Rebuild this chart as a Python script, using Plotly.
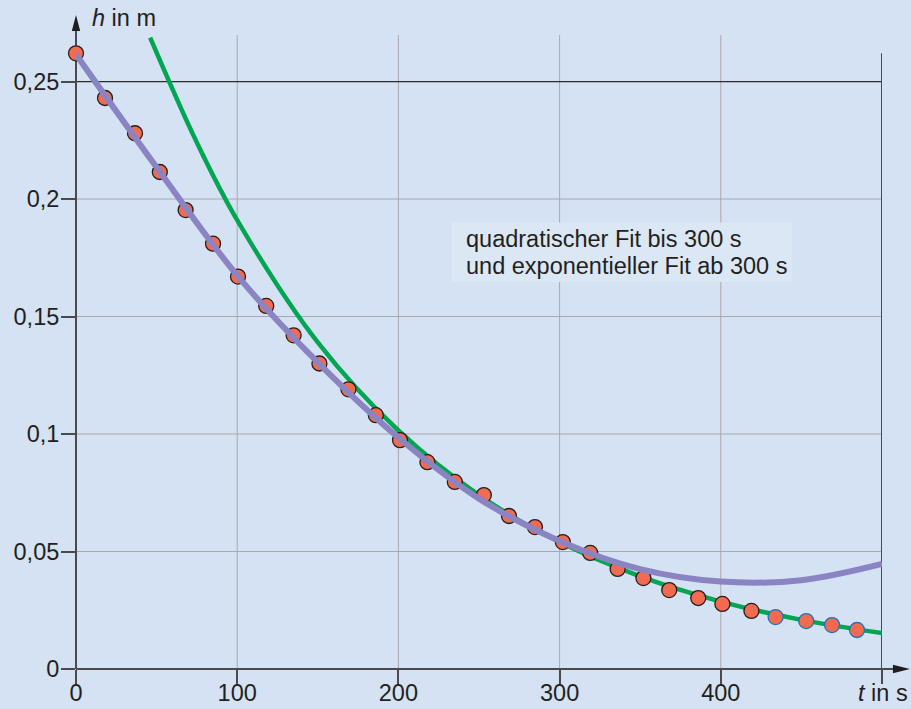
import plotly.graph_objects as go

# Measured water level h (m) over time t (s)
t_meas = [0, 18, 36.6, 52, 68, 85, 100.5, 118, 135, 151, 169, 186, 201, 218, 235,
          253, 268.6, 284.7, 302, 319, 336, 352, 368, 386, 401, 419, 434, 453, 469, 484.5]
h_meas = [0.262, 0.243, 0.228, 0.2115, 0.1953, 0.181, 0.167, 0.1545, 0.142, 0.130,
          0.119, 0.108, 0.0974, 0.088, 0.0796, 0.074, 0.0651, 0.0604, 0.054, 0.0494,
          0.0426, 0.0387, 0.0336, 0.0302, 0.0277, 0.0247, 0.0221, 0.0204, 0.0187, 0.0166]
# the last points are outlined in blue
n_blue = 4

# quadratic fit curve (sampled)
t_quad = [0, 50, 100, 150, 200, 250, 300, 350, 400, 450, 500]
h_quad = [0.2615, 0.2135, 0.1675, 0.1305, 0.0985, 0.0725, 0.0545, 0.0425, 0.0372, 0.0378, 0.0447]

# exponential fit curve (sampled)
t_exp = [46, 75, 100, 150, 200, 250, 300, 350, 400, 450, 500]
h_exp = [0.2687, 0.224, 0.191, 0.139, 0.1015, 0.074, 0.054, 0.0394, 0.0287, 0.0209, 0.0153]

x_ticks = [0, 100, 200, 300, 400, 500]
x_ticktext = ["0", "100", "200", "300", "400", ""]
y_ticks = [0, 0.05, 0.1, 0.15, 0.2, 0.25]
y_ticktext = ["0", "0,05", "0,1", "0,15", "0,2", "0,25"]

BG = "#d5e2f3"
BOX = "#dce7f5"
AXIS = "#4a4a4d"
GRID = "#a8a8aa"
TXT = "#231f20"
FONT = "Liberation Sans, Arial, sans-serif"
FS = 23.5

fig = go.Figure()

fig.add_trace(go.Scatter(x=t_exp, y=h_exp, mode="lines", line=dict(color="#00a651", width=4.5, shape="spline"),
                         hoverinfo="skip", showlegend=False))

line_cols = [TXT] * (len(t_meas) - n_blue) + ["#1b75bc"] * n_blue
fig.add_trace(go.Scatter(x=t_meas, y=h_meas, mode="markers", cliponaxis=False,
                         marker=dict(size=15, color="#f26b50", line=dict(color=line_cols, width=1.3)),
                         showlegend=False))

fig.add_trace(go.Scatter(x=t_quad, y=h_quad, mode="lines", line=dict(color="#8a84c3", width=6, shape="spline"),
                         hoverinfo="skip", showlegend=False))

shapes = []
# grid lines
for xv in x_ticks[1:-1]:
    shapes.append(dict(type="line", xref="x", yref="y domain", x0=xv, x1=xv, y0=0, y1=1,
                       line=dict(color=GRID, width=1), layer="below"))
for yv in y_ticks[1:-1]:
    shapes.append(dict(type="line", xref="x domain", yref="y", x0=0, x1=1, y0=yv, y1=yv,
                       line=dict(color=GRID, width=1), layer="below"))
# top line at 0,25 and right border at 500
shapes.append(dict(type="line", xref="x domain", yref="y", x0=0, x1=1, y0=y_ticks[-1], y1=y_ticks[-1],
                   line=dict(color="#2b2b2d", width=1.3), layer="below"))
shapes.append(dict(type="line", xref="x", yref="y", x0=x_ticks[-1], x1=x_ticks[-1], y0=0, y1=0.262,
                   line=dict(color=AXIS, width=2), layer="below"))
# axes
shapes.append(dict(type="line", xref="x domain", yref="y domain", x0=0, x1=1.0136, y0=0, y1=0,
                   line=dict(color=AXIS, width=2), layer="below"))
shapes.append(dict(type="line", xref="x domain", yref="y domain", x0=0, x1=0, y0=0, y1=1.011,
                   line=dict(color=AXIS, width=2), layer="below"))
# arrow heads
shapes.append(dict(type="path", xref="x domain", yref="y domain",
                   path="M 1.0347 0 L 1.0136 0.0066 L 1.0136 -0.0066 Z",
                   fillcolor="#1e1e20", line=dict(width=0)))
shapes.append(dict(type="path", xref="x domain", yref="y domain",
                   path="M 0 1.0315 L 0.0052 1.0063 L -0.0052 1.0063 Z",
                   fillcolor="#1e1e20", line=dict(width=0)))
# text box
shapes.append(dict(type="rect", xref="x", yref="y", x0=233, x1=444, y0=0.1647, y1=0.19,
                   fillcolor=BOX, line=dict(width=0), layer="above"))

annotations = [
    dict(xref="x", yref="y", x=240.5, y=0.1828, xanchor="left", yanchor="middle", align="left",
         showarrow=False, text="quadratischer Fit bis 300 s",
         font=dict(family=FONT, size=FS, color=TXT)),
    dict(xref="x", yref="y", x=240.5, y=0.1713, xanchor="left", yanchor="middle", align="left",
         showarrow=False, text="und exponentieller Fit ab 300 s",
         font=dict(family=FONT, size=FS, color=TXT)),
    dict(xref="x domain", yref="y domain", x=0.0174, y=1.027, xanchor="left", yanchor="middle",
         showarrow=False, text="<i>h</i> in m", font=dict(family=FONT, size=FS, color=TXT)),
    dict(xref="x domain", yref="y domain", x=1.0347, y=-0.038, xanchor="right", yanchor="middle",
         showarrow=False, text="<i>t</i> in s", font=dict(family=FONT, size=FS, color=TXT)),
]

fig.update_layout(
    width=911, height=709,
    margin=dict(l=76, r=29, t=35, b=40, autoexpand=False),
    paper_bgcolor=BG, plot_bgcolor="rgba(0,0,0,0)",
    font=dict(family=FONT, size=FS, color=TXT),
    shapes=shapes, annotations=annotations,
    showlegend=False,
)
fig.update_xaxes(range=[0, 500], tickvals=x_ticks, ticktext=x_ticktext, showgrid=False,
                 zeroline=False, showline=False, ticks="outside", ticklen=14, tickwidth=2,
                 tickcolor=AXIS, tickfont=dict(size=FS, color=TXT), ticklabelstandoff=-11,
                 automargin=False)
fig.update_yaxes(range=[0, 0.2698], tickvals=y_ticks, ticktext=y_ticktext, showgrid=False,
                 zeroline=False, showline=False, ticks="outside",
                 ticklen=14, tickwidth=2, tickcolor=AXIS, tickfont=dict(size=FS, color=TXT),
                 ticklabelstandoff=-3, automargin=False)

fig.write_html("out.html")
